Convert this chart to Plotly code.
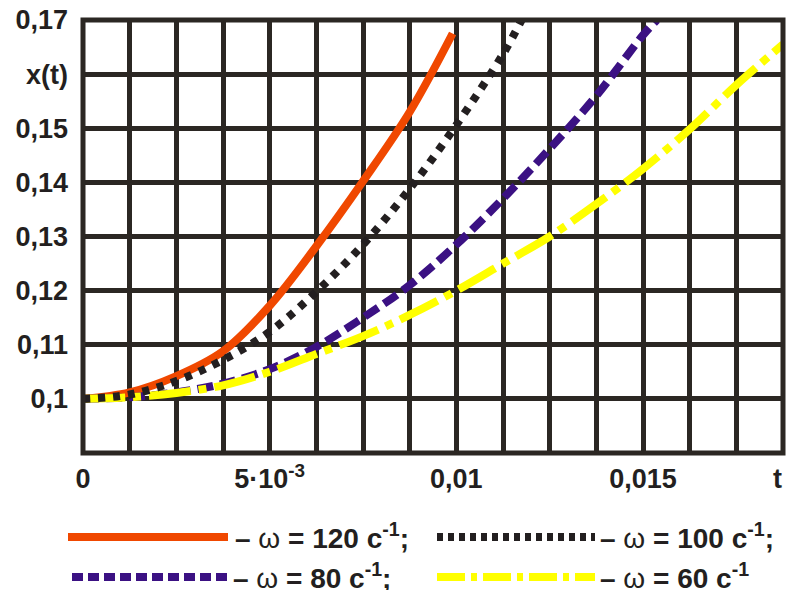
import plotly.graph_objects as go

# ---------------- data ----------------
step = 0.00125
t_grid = [i * step for i in range(16)]

t_120 = [0, 0.00125, 0.0025, 0.00375, 0.005, 0.00625, 0.0075, 0.00875, 0.0099]
x_120 = [0.1, 0.1012, 0.1042, 0.1088, 0.1172, 0.1282, 0.1402, 0.1530, 0.1675]

t_100 = [0, 0.00125, 0.0025, 0.00375, 0.005, 0.00625, 0.0075, 0.00875, 0.01, 0.01125, 0.01175]
x_100 = [0.1, 0.1008, 0.1033, 0.1072, 0.1124, 0.1198, 0.1285, 0.1388, 0.1506, 0.1637, 0.1700]

t_80 = [0, 0.00125, 0.0025, 0.00375, 0.005, 0.00625, 0.0075, 0.00875, 0.01, 0.01125,
        0.0125, 0.01375, 0.015, 0.015375]
x_80 = [0.1, 0.1003, 0.1012, 0.1028, 0.1055, 0.1096, 0.1150, 0.1210, 0.1285, 0.1370,
        0.1462, 0.1560, 0.1672, 0.1700]

t_60 = t_grid
x_60 = [0.1, 0.1003, 0.1011, 0.1025, 0.1050, 0.1083, 0.1116, 0.1155, 0.1200, 0.1250,
        0.1300, 0.1360, 0.1425, 0.1498, 0.1580, 0.1655]

x_tick_text = ["0", "", "", "", "5·10<sup>-3</sup>", "", "", "", "0,01", "", "", "", "0,015", "", "", "t\u2009\u2009"]
y_tick_vals = [0.09, 0.10, 0.11, 0.12, 0.13, 0.14, 0.15, 0.16, 0.17]
y_tick_text = ["", "0,1", "0,11", "0,12", "0,13", "0,14", "0,15", "x(t)", "0,17"]

legend_labels = ["120", "100", "80", "60"]

# ---------------- styles ----------------
GRID = "#2b2723"
ORANGE = "#f04800"
BLACK = "#231f20"
PURPLE = "#3b1183"
YELLOW = "#ffff00"
FONT = "Arial, Liberation Sans, sans-serif"

fig = go.Figure()

fig.add_trace(go.Scatter(x=t_120, y=x_120, mode="lines", line=dict(color=ORANGE, width=8, shape="spline"),
                         name="ω = 120 c-1", showlegend=False))
fig.add_trace(go.Scatter(x=t_80, y=x_80, mode="lines", line=dict(color=PURPLE, width=8, shape="spline", dash="16px,7px"),
                         name="ω = 80 c-1", showlegend=False))
fig.add_trace(go.Scatter(x=t_60, y=x_60, mode="lines", line=dict(color=YELLOW, width=8, shape="spline", dash="42px,8px,8px,8px"),
                         name="ω = 60 c-1", showlegend=False))
fig.add_trace(go.Scatter(x=t_100, y=x_100, mode="lines", line=dict(color=BLACK, width=8, shape="spline", dash="7px,8px"),
                         name="ω = 100 c-1", showlegend=False))

tickfont = dict(family=FONT, size=27, color=BLACK, weight="bold")

fig.update_xaxes(range=[0, 0.0187501], tickvals=t_grid, ticktext=x_tick_text, showgrid=True,
                 gridcolor=GRID, gridwidth=5, zeroline=False, showline=False, ticks="",
                 tickfont=tickfont, ticklabelstandoff=7, ticklabeloverflow="allow",
                 automargin=False, fixedrange=True)
fig.update_yaxes(range=[0.0899999, 0.1700001], tickvals=y_tick_vals, ticktext=y_tick_text, showgrid=True,
                 gridcolor=GRID, gridwidth=5, zeroline=False, showline=False, ticks="",
                 tickfont=tickfont, ticklabelstandoff=14,
                 ticklabeloverflow="allow", automargin=False, fixedrange=True)

# plot frame
fig.add_shape(type="rect", xref="paper", yref="paper", x0=0, x1=1, y0=0, y1=1,
              line=dict(color=GRID, width=5), layer="above")

# ---------------- custom legend (paper coordinates) ----------------
L, T, W, H = 83, 20, 700, 433
def px(x):
    return (x - L) / W
def py(y):
    return (T + H - y) / H

legend_items = [
    (ORANGE, "solid", 68, 228, 537, 233, legend_labels[0], ";"),
    (BLACK, "6px,5px", 437, 595, 537, 598, legend_labels[1], ";"),
    (PURPLE, "11px,5px", 72, 228, 577, 231, legend_labels[2], ";"),
    (YELLOW, "28px,6px,6px,6px", 437, 595, 577, 598, legend_labels[3], ""),
]
for color, dash, x0, x1, yy, tx, lab, end in legend_items:
    fig.add_shape(type="line", xref="paper", yref="paper", x0=px(x0), x1=px(x1), y0=py(yy), y1=py(yy),
                  line=dict(color=color, width=8, dash=dash))
    fig.add_annotation(xref="paper", yref="paper", x=px(tx), y=py(yy - 1), xanchor="left", yanchor="middle",
                       showarrow=False,
                       text="– <span style='font-weight:normal'>ω</span> = " + lab + " c<sup>-1</sup>" + end,
                       font=dict(family=FONT, size=28, color=BLACK, weight="bold"))

fig.update_layout(width=787, height=590, margin=dict(l=83, r=4, t=20, b=137, autoexpand=False),
                  paper_bgcolor="white", plot_bgcolor="white", showlegend=False)

fig.write_html("out.html")
